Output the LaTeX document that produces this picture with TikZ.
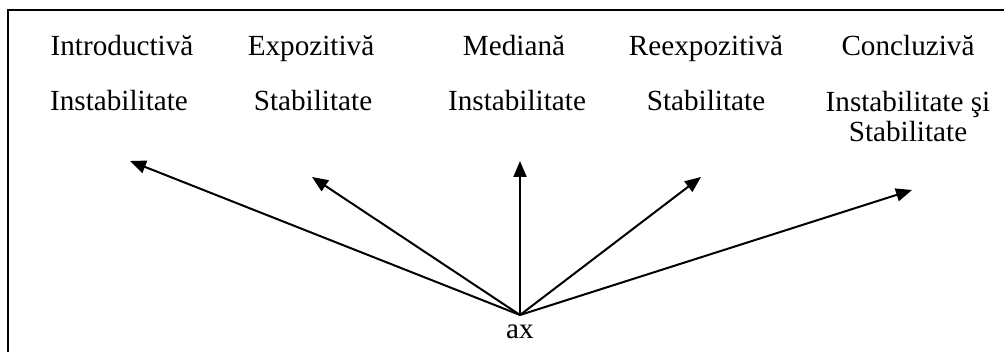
\documentclass[tikz,border=0pt]{standalone}
\usepackage{fontspec}
\setmainfont{Liberation Serif}
\usetikzlibrary{arrows.meta}
\begin{document}
\begin{tikzpicture}[x=0.5pt,y=-0.5pt,
  lbl/.style={inner sep=0pt,font=\fontsize{14.6}{15}\selectfont,align=center,anchor=base},
  arr/.style={line width=1pt,-{Triangle[length=8pt,width=6.5pt]}},
  frameline/.style={line width=1.3pt}]
\useasboundingbox (0,0) rectangle (1007,352);
\draw[frameline] (7,10) -- (1004,10);
\draw[frameline] (8,10) -- (8,352);
% row 1
\node[lbl] (t1) at (122,56) {Introductivă};
\node[lbl] (t2) at (311,56) {Expozitivă};
\node[lbl] (t3) at (514,56) {Mediană};
\node[lbl] (t4) at (706,56) {Reexpozitivă};
\node[lbl] (t5) at (908,56) {Concluzivă};
% row 2
\node[lbl] (s1) at (119,111) {Instabilitate};
\node[lbl] (s2) at (313,111) {Stabilitate};
\node[lbl] (s3) at (517,111) {Instabilitate};
\node[lbl] (s4) at (706,111) {Stabilitate};
\node[lbl,anchor=north] (s5) at (908,91) {Instabilitate şi\\Stabilitate};
% axis
\node[lbl] (ax) at (520,339) {ax};
\coordinate (o) at (520,315);
\coordinate (e1) at (130,161);
\coordinate (e2) at (312,177);
\coordinate (e3) at (520,161);
\coordinate (e4) at (701,177);
\coordinate (e5) at (912,190);
\foreach \e in {e1,e2,e3,e4,e5} \draw[arr] (o) -- (\e);
\end{tikzpicture}
\end{document}
